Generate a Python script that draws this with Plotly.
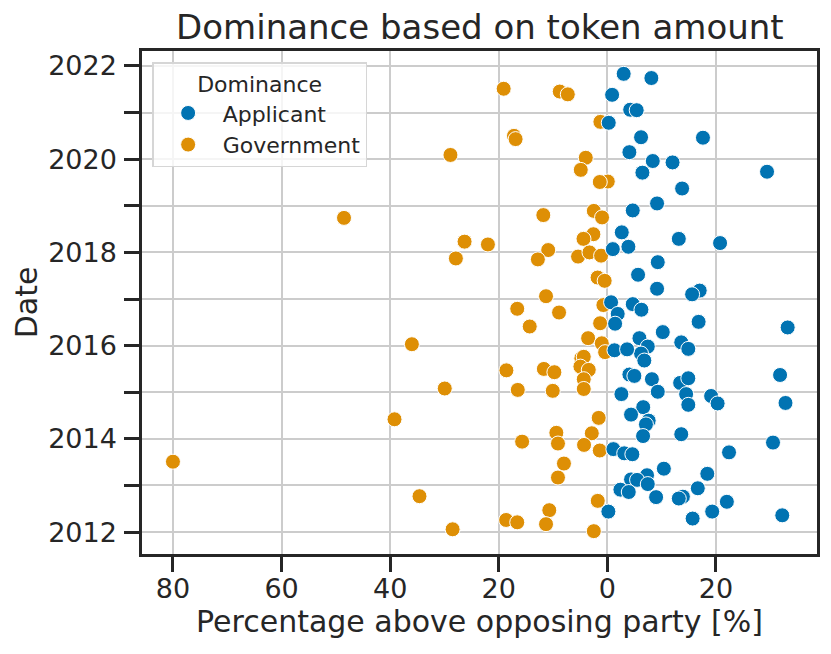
import plotly.graph_objects as go

# percentage above opposing party (negative = government side) and date in decimal years
applicant_pct = [3.0, 8.1, 0.87, 4.2, 5.4, 0.25, 6.2, 17.6, 4.05, 8.36, 12.0, 6.45, 29.4,
                 13.76, 9.15, 4.67, 2.65, 1.0, 3.87, 13.15, 20.75, 9.28, 5.65, 9.15, 17.0,
                 15.6, 0.68, 4.67, 6.27, 1.9, 1.42, 16.8, 33.2, 10.2, 5.9, 7.44, 6.2, 6.8,
                 1.3, 3.63, 13.6, 14.9, 31.8, 4.05, 4.97, 8.2, 13.4, 14.9, 9.28, 2.58, 14.5,
                 14.9, 19.1, 20.3, 32.8, 6.6, 4.36, 7.6, 7.1, 6.57, 13.6, 30.5, 1.1, 3.1,
                 4.6, 22.4, 10.4, 18.4, 7.3, 4.36, 5.47, 7.44, 16.65, 2.4, 3.94, 8.97, 13.9,
                 13.15, 22.0, 19.3, 0.18, 15.7, 32.2]
applicant_date = [2021.83, 2021.74, 2021.38, 2021.06, 2021.05, 2020.78, 2020.47, 2020.46,
                  2020.15, 2019.96, 2019.93, 2019.71, 2019.73, 2019.37, 2019.05, 2018.90,
                  2018.43, 2018.07, 2018.12, 2018.29, 2018.20, 2017.79, 2017.52, 2017.22,
                  2017.18, 2017.10, 2016.93, 2016.89, 2016.77, 2016.68, 2016.47, 2016.51,
                  2016.39, 2016.29, 2016.16, 2015.98, 2015.83, 2015.68, 2015.90, 2015.92,
                  2016.07, 2015.93, 2015.37, 2015.38, 2015.35, 2015.28, 2015.20, 2015.30,
                  2015.01, 2014.96, 2014.96, 2014.73, 2014.92, 2014.76, 2014.77, 2014.68,
                  2014.52, 2014.39, 2014.31, 2014.06, 2014.10, 2013.92, 2013.78, 2013.69,
                  2013.67, 2013.71, 2013.36, 2013.25, 2013.22, 2013.13, 2013.12, 2013.03,
                  2012.94, 2012.91, 2012.86, 2012.75, 2012.76, 2012.72, 2012.65, 2012.44,
                  2012.44, 2012.29, 2012.36]

government_pct = [-19.1, -8.77, -7.29, -1.29, -17.2, -16.9, -28.9, -3.98, -4.9, 0.07, -1.4,
                  -11.8, -2.5, -0.98, -26.3, -22.0, -27.9, -2.58, -4.4, -10.9, -12.8, -5.4,
                  -3.3, -1.16, -1.8, -0.5, -11.3, -16.6, -8.9, -14.3, -0.74, -1.34, -36.0,
                  -3.55, -1.03, -0.42, -18.6, -11.7, -9.76, -4.8, -4.35, -4.97, -3.43, -4.35,
                  -29.95, -16.5, -10.06, -4.35, -39.2, -1.6, -9.4, -2.87, -15.7, -9.1, -4.3,
                  -1.4, -8.0, -9.1, -34.6, -1.77, -10.7, -18.65, -16.6, -11.3, -28.5, -2.5,
                  -80.0, -48.5]
government_date = [2021.51, 2021.45, 2021.39, 2020.80, 2020.50, 2020.43, 2020.09, 2020.03,
                   2019.77, 2019.52, 2019.51, 2018.80, 2018.89, 2018.75, 2018.23, 2018.17,
                   2017.87, 2018.39, 2018.29, 2018.05, 2017.85, 2017.91, 2018.00, 2017.93,
                   2017.46, 2017.39, 2017.06, 2016.79, 2016.71, 2016.41, 2016.87, 2016.48,
                   2016.03, 2016.16, 2016.05, 2015.86, 2015.47, 2015.50, 2015.43, 2015.73,
                   2015.76, 2015.55, 2015.48, 2015.28, 2015.08, 2015.05, 2015.03, 2015.07,
                   2014.42, 2014.45, 2014.13, 2014.12, 2013.94, 2013.90, 2013.87, 2013.75,
                   2013.47, 2013.17, 2012.77, 2012.67, 2012.47, 2012.26, 2012.21, 2012.17,
                   2012.06, 2012.02, 2013.51, 2018.74]

x_ticks = [-80, -60, -40, -20, 0, 20]
x_tick_labels = ["80", "60", "40", "20", "0", "20"]
y_ticks = list(range(2012, 2023))
y_tick_labels = [str(y) if y % 2 == 0 else "" for y in y_ticks]

dark = "#262626"
blue = "#0173b2"
orange = "#de8f05"

fig = go.Figure()
fig.add_trace(go.Scatter(
    x=government_pct, y=government_date, mode="markers", name="Government",
    legendrank=2,
    marker=dict(color=orange, size=15, line=dict(color="white", width=1)),
))
fig.add_trace(go.Scatter(
    x=applicant_pct, y=applicant_date, mode="markers", name="Applicant",
    legendrank=1,
    marker=dict(color=blue, size=15, line=dict(color="white", width=1)),
))

axis_common = dict(
    showline=True, linecolor=dark, linewidth=2.5, mirror=True,
    ticks="outside", ticklen=15, tickwidth=2.5, tickcolor=dark,
    showgrid=True, gridcolor="#cccccc", gridwidth=2,
    zeroline=False, tickfont=dict(size=27, color=dark), automargin=False,
)

fig.update_xaxes(
    range=[-85.7, 38.6], tickvals=x_ticks, ticktext=x_tick_labels,
    ticklabelstandoff=-6,
    title=dict(text="Percentage above opposing party [%]", font=dict(size=30, color=dark), standoff=2),
    **axis_common,
)
fig.update_yaxes(
    range=[2011.53, 2022.32], tickvals=y_ticks, ticktext=y_tick_labels,
    ticklabelstandoff=2,
    title=dict(text="Date", font=dict(size=30, color=dark), standoff=2),
    **axis_common,
)

# the page puts the figure 8px in from the top left corner
fig.update_layout(
    width=815, height=638,
    margin=dict(l=134, r=6, t=43, b=92),
    paper_bgcolor="white", plot_bgcolor="white",
    font=dict(family="DejaVu Sans", color=dark),
    title=dict(text="Dominance based on token amount", x=0.579, xanchor="center",
               y=0.970, yanchor="middle", font=dict(size=34, color=dark)),
    legend=dict(
        x=0.015, y=0.978, xanchor="left", yanchor="top",
        bgcolor="rgba(255,255,255,0.8)", bordercolor="#d6d6d6", borderwidth=1.5,
        title=dict(text="Dominance", side="top center", font=dict(size=22, color=dark)),
        font=dict(size=22, color=dark), itemwidth=59,
    ),
    showlegend=True,
)

fig.write_html("out.html")
